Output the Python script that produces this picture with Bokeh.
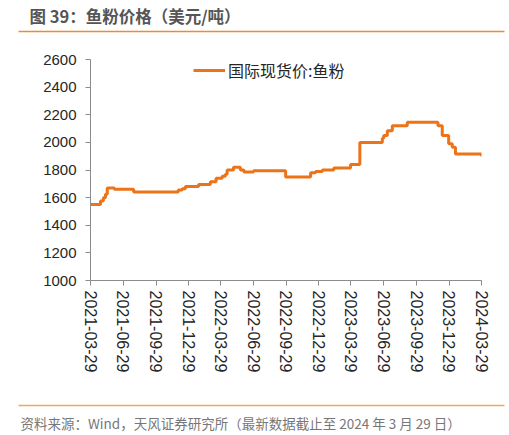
import pandas as pd
from bokeh.plotting import figure
from bokeh.layouts import column, row
from bokeh.models import Range1d, FixedTicker, Legend, LegendItem
from bokeh.core.properties import value
from bokeh.embed import file_html
from bokeh.resources import INLINE

# ---- data ----
dates = ["2021-03-29", "2021-04-26", "2021-05-04", "2021-05-10", "2021-05-15",
         "2021-06-04", "2021-07-28", "2021-11-30", "2021-12-11", "2021-12-20",
         "2022-01-26", "2022-02-28", "2022-03-16", "2022-04-02", "2022-04-11",
         "2022-04-16", "2022-05-04", "2022-05-23", "2022-06-02", "2022-06-29",
         "2022-09-27", "2022-12-06", "2022-12-20", "2023-01-08", "2023-02-09",
         "2023-03-28", "2023-04-23", "2023-06-25", "2023-06-29", "2023-07-09",
         "2023-07-23", "2023-09-03", "2023-11-28", "2023-12-10", "2023-12-28",
         "2024-01-07", "2024-01-16", "2024-03-22", "2024-03-29"]
prices = [1550, 1575, 1600, 1625, 1670,
          1660, 1640, 1655, 1665, 1680,
          1695, 1715, 1740, 1755, 1770,
          1800, 1820, 1800, 1785, 1795,
          1750, 1780, 1790, 1800, 1815,
          1840, 2000, 2030, 2050, 2085,
          2120, 2145, 2120, 2050, 1990,
          1965, 1915, 1915, 1900]
tick_labels = ["2021-03-29", "2021-06-29", "2021-09-29", "2021-12-29",
               "2022-03-29", "2022-06-29", "2022-09-29", "2022-12-29",
               "2023-03-29", "2023-06-29", "2023-09-29", "2023-12-29",
               "2024-03-29"]
y_ticks = [1000, 1200, 1400, 1600, 1800, 2000, 2200, 2400, 2600]
series_name = "国际现货价:鱼粉"
title_text = "图 39：鱼粉价格（美元/吨）"
source_text = "资料来源：Wind，天风证券研究所（最新数据截止至 2024 年 3 月 29 日）"

ORANGE = "#EC7318"
CJK = "Noto Sans CJK SC"
LAT = "Liberation Sans"
W = 509


def blank(height):
    f = figure(width=W, height=height, output_backend="svg", toolbar_location=None,
               x_axis_location=None, y_axis_location=None,
               min_border=0, min_border_left=0, min_border_right=0,
               min_border_top=0, min_border_bottom=0)
    f.x_range = Range1d(0, W)
    f.y_range = Range1d(height, 0)
    f.outline_line_color = None
    f.grid.visible = False
    return f


# ---- header ----
top = blank(40)
top.text(x=[29], y=[15], text=[title_text], text_font=value(CJK),
         text_font_size="16.5px", text_font_style="bold", text_color="#555555",
         text_baseline="middle", text_align="left")
top.segment(x0=[18], y0=[31], x1=[504], y1=[31], line_color="#F08A2E", line_width=1.5)

# ---- main chart ----
x = pd.to_datetime(dates)
tick_ms = [int(pd.Timestamp(t).value // 10**6) for t in tick_labels]

p = figure(width=W, height=360, x_axis_type="datetime",
           output_backend="svg", toolbar_location=None,
           min_border_left=90, min_border_right=28,
           min_border_top=19, min_border_bottom=120)
p.x_range = Range1d(pd.Timestamp(tick_labels[0]), pd.Timestamp(tick_labels[-1]))
p.y_range = Range1d(y_ticks[0], y_ticks[-1])
p.outline_line_color = None
p.grid.visible = False

r = p.step(x, prices, mode="after", line_color=ORANGE, line_width=3)

for ax in (p.xaxis[0], p.yaxis[0]):
    ax.axis_line_color = "#8c8c8c"
    ax.major_tick_line_color = "#8c8c8c"
    ax.major_tick_in = 0
    ax.major_tick_out = 5
    ax.minor_tick_line_color = None
    ax.major_label_text_color = "#262626"
    ax.major_label_text_font = LAT

p.yaxis.ticker = FixedTicker(ticks=y_ticks)
p.yaxis.major_label_text_font_size = "15px"
p.yaxis.major_label_standoff = 9

p.xaxis.ticker = FixedTicker(ticks=tick_ms)
p.xaxis.major_label_overrides = {t: l for t, l in zip(tick_ms, tick_labels)}
p.xaxis.major_label_orientation = "vertical"
p.xaxis.major_label_text_font_size = "16px"
p.xaxis.major_label_standoff = 5

legend = Legend(items=[LegendItem(label=series_name, renderers=[r])],
                location=(103, 198), orientation="horizontal",
                border_line_color=None, background_fill_alpha=0,
                padding=0, margin=0, glyph_width=32, glyph_height=20,
                label_height=20, label_standoff=3,
                label_text_font=CJK, label_text_font_size="16px",
                label_text_color="#262626")
p.add_layout(legend)

# ---- footer ----
bot = blank(35)
bot.segment(x0=[18], y0=[5], x1=[504], y1=[5], line_color="#F6A35C", line_width=1.5)
bot.text(x=[20], y=[22], text=[source_text], text_font=value(CJK),
         text_font_size="13.5px", text_color="#777777",
         text_baseline="middle", text_align="left")

layout = column(row(top), row(p), row(bot), spacing=0)
open("out.html", "w").write(file_html(layout, INLINE))
